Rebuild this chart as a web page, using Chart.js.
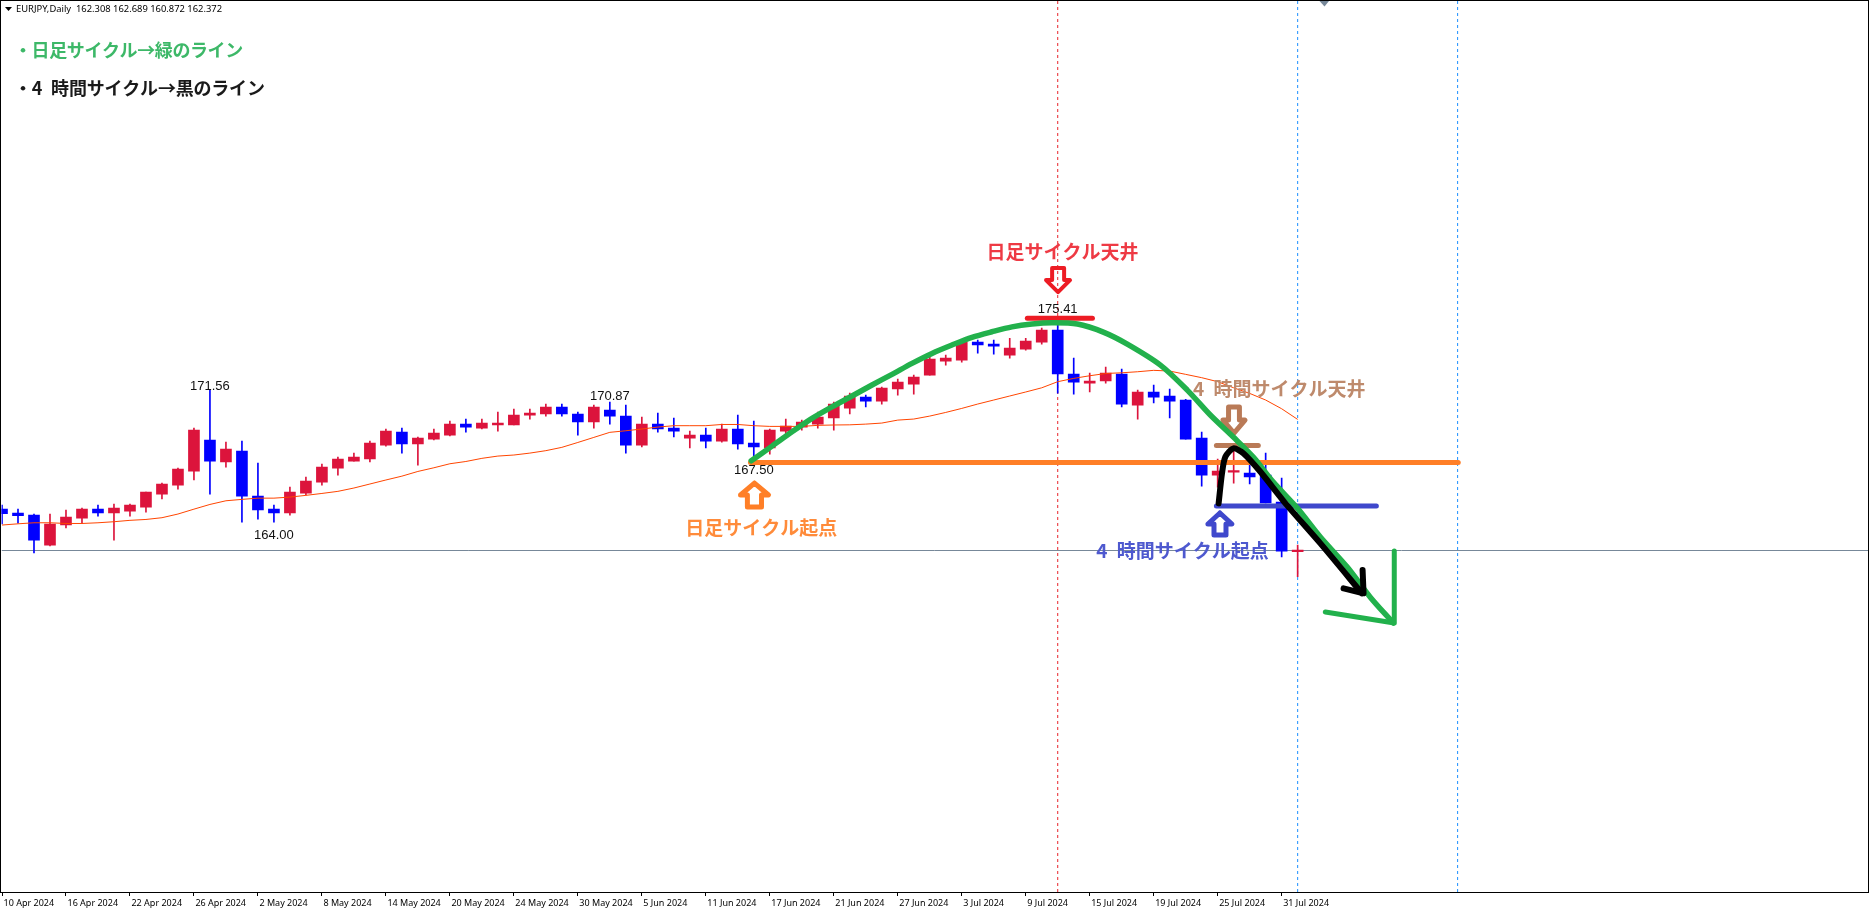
<!DOCTYPE html>
<html>
<head>
<meta charset="utf-8">
<title>EURJPY Daily</title>
<script src="https://cdn.jsdelivr.net/npm/chart.js@4/dist/chart.umd.js"></script>
<style>
    html, body { margin: 0; padding: 0; background: #fff; overflow: hidden; }
    canvas { display: block; }
</style>
</head>
<body>
<canvas id="chart" width="1869" height="908"></canvas>
<script>
// Candle values, one entry per trading day
const opens = [
    164.74, 164.52, 164.40, 162.68, 163.83, 164.23, 164.74, 164.52, 164.63, 164.86,
    165.60, 166.12, 166.92, 168.70, 167.44, 168.07, 165.49, 164.74, 164.52, 165.66,
    166.29, 167.09, 167.49, 167.61, 168.41, 169.15, 168.47, 168.75, 168.98, 169.61,
    169.38, 169.56, 169.56, 170.13, 170.19, 170.59, 170.19, 169.73, 170.41, 170.07,
    168.41, 169.61, 169.38, 168.81, 168.98, 168.64, 169.33, 168.52, 168.24, 169.21,
    169.44, 169.61, 169.96, 170.53, 171.16, 170.93, 171.62, 171.90, 172.42, 173.22,
    173.28, 174.31, 174.19, 173.56, 173.91, 174.31, 175.00, 172.48, 171.96, 172.08,
    172.48, 170.70, 171.45, 171.22, 170.99, 168.81, 166.69, 166.86, 166.81, 166.69,
    165.15, 162.308
];
const highs = [
    164.97, 164.74, 164.46, 164.46, 164.69, 164.80, 164.97, 165.03, 165.03, 165.72,
    166.23, 167.09, 169.38, 171.56, 168.58, 168.64, 167.38, 164.97, 166.00, 166.58,
    167.32, 167.72, 167.95, 168.64, 169.33, 169.38, 168.87, 169.33, 169.78, 169.90,
    169.90, 170.30, 170.47, 170.47, 170.76, 170.76, 170.30, 170.70, 170.87, 170.70,
    170.01, 170.24, 169.96, 169.21, 169.38, 169.61, 170.13, 169.78, 169.33, 169.90,
    169.84, 170.30, 170.87, 171.39, 171.27, 171.73, 172.19, 172.42, 173.62, 173.56,
    174.42, 174.42, 174.42, 174.53, 174.53, 175.11, 175.41, 173.39, 172.54, 172.88,
    172.76, 171.56, 171.85, 171.62, 171.03, 169.15, 167.61, 168.12, 167.55, 167.95,
    166.52, 162.689
];
const lows = [
    163.89, 163.94, 162.24, 162.63, 163.66, 163.94, 164.34, 162.97, 164.34, 164.57,
    165.32, 165.89, 166.41, 165.60, 167.15, 164.00, 164.17, 164.00, 164.40, 165.55,
    166.12, 166.69, 167.49, 167.44, 168.35, 167.95, 167.26, 168.70, 168.93, 169.15,
    169.33, 169.21, 169.56, 169.90, 170.07, 170.07, 168.98, 169.38, 169.61, 167.95,
    168.30, 169.15, 168.87, 168.24, 168.24, 168.58, 168.18, 167.50, 167.89, 168.87,
    169.27, 169.38, 169.27, 170.19, 170.59, 170.76, 171.27, 171.33, 172.42, 172.99,
    173.16, 173.68, 173.62, 173.39, 173.85, 174.19, 171.39, 171.33, 171.45, 171.96,
    170.59, 169.90, 170.82, 169.96, 168.75, 166.06, 166.00, 166.23, 166.18, 165.09,
    162.00, 160.872
];
const closes = [
    164.48, 164.36, 162.97, 163.89, 164.29, 164.74, 164.52, 164.80, 164.97, 165.72,
    166.18, 167.04, 169.27, 167.49, 168.18, 165.49, 164.69, 164.52, 165.72, 166.35,
    167.15, 167.61, 167.72, 168.52, 169.21, 168.47, 168.81, 169.10, 169.61, 169.44,
    169.67, 169.67, 170.13, 170.24, 170.59, 170.19, 169.73, 170.59, 170.07, 168.41,
    169.61, 169.33, 169.21, 168.98, 168.64, 169.33, 168.47, 168.30, 169.27, 169.50,
    169.73, 170.01, 170.76, 171.22, 170.93, 171.67, 172.02, 172.30, 173.34, 173.39,
    174.31, 174.14, 174.08, 173.96, 174.37, 175.00, 172.48, 172.02, 172.08, 172.54,
    170.76, 171.45, 171.16, 170.93, 168.75, 166.69, 166.92, 166.92, 166.58, 165.09,
    162.34, 162.372
];
const movingAverage = [
    163.83, 163.90, 163.96, 163.96, 163.92, 163.92, 163.96, 164.02, 164.10, 164.15,
    164.25, 164.46, 164.74, 165.01, 165.22, 165.30, 165.37, 165.37, 165.43, 165.53,
    165.64, 165.76, 165.95, 166.18, 166.41, 166.63, 166.90, 167.11, 167.34, 167.47,
    167.65, 167.78, 167.84, 167.95, 168.09, 168.28, 168.56, 168.85, 169.14, 169.23,
    169.33, 169.44, 169.52, 169.52, 169.52, 169.59, 169.59, 169.52, 169.48, 169.48,
    169.48, 169.54, 169.56, 169.57, 169.61, 169.67, 169.84, 169.90, 170.07, 170.28,
    170.51, 170.76, 170.99, 171.22, 171.45, 171.69, 172.04, 172.23, 172.38, 172.51,
    172.55, 172.61, 172.69, 172.65, 172.46, 172.27, 172.04, 171.69, 171.37, 170.99,
    170.49, 169.88
];

// One date label every 4 candles
const dateLabels = [
    '10 Apr 2024', '16 Apr 2024', '22 Apr 2024', '26 Apr 2024', '2 May 2024', '8 May 2024', '14 May 2024',
    '20 May 2024', '24 May 2024', '30 May 2024', '5 Jun 2024', '11 Jun 2024', '17 Jun 2024', '21 Jun 2024',
    '27 Jun 2024', '3 Jul 2024', '9 Jul 2024', '15 Jul 2024', '19 Jul 2024', '25 Jul 2024', '31 Jul 2024'
];
const labelStep = 4;

const currentPrice = 162.372;
const dayCycleTopIndex = 66;
const dashedBlueIndexes = [81, 91];

// Hand drawn lines, as [candle index, price]
const greenCycle = [
    [46.84, 167.51], [48.14, 168.35], [49.39, 169.17], [50.64, 169.94], [51.89, 170.60], [53.14, 171.22],
    [54.39, 171.85], [55.64, 172.46], [56.89, 173.09], [58.14, 173.66], [59.39, 174.14], [60.64, 174.58],
    [61.89, 174.90], [63.14, 175.18], [64.39, 175.34], [65.64, 175.41], [67.23, 175.34], [68.85, 174.88],
    [70.35, 174.19], [72.42, 172.99], [74.10, 171.56], [75.54, 170.13], [76.98, 168.87], [78.23, 167.72],
    [79.48, 166.29], [80.98, 164.80], [82.42, 163.14], [84.10, 161.42], [85.54, 159.70], [86.98, 158.22]
];
const greenHead = [[87.04, 162.34], [87.04, 158.22], [82.73, 158.85]];
const blackCycle = [
    [76.06, 165.07], [76.27, 166.79], [76.48, 167.74], [76.99, 168.22], [77.62, 167.93], [78.67, 166.88],
    [80.33, 164.97], [82.42, 162.78], [85.02, 159.92]
];
const blackHead = [[85.06, 161.25], [85.12, 159.92], [83.87, 160.20]];
const orangeLevel = [[46.79, 167.41], [91.04, 167.41]];
const redLevel = [[64.10, 175.67], [68.17, 175.67]];
const tanLevel = [[75.92, 168.39], [78.54, 168.39]];
const blueLevel = [[75.92, 164.92], [85.92, 164.92]];

// Block arrows, closed outlines
const orangeArrow = [
    [47.04, 166.23], [47.92, 165.55], [47.48, 165.55], [47.48, 164.86],
    [46.60, 164.86], [46.60, 165.55], [46.17, 165.55], [47.04, 166.23]
];
const redArrow = [
    [66.02, 177.17], [66.77, 177.86], [66.40, 177.86], [66.40, 178.55],
    [65.65, 178.55], [65.65, 177.86], [65.27, 177.86], [66.02, 177.17]
];
const tanArrow = [
    [77.02, 169.10], [77.71, 169.84], [77.36, 169.84], [77.36, 170.59],
    [76.68, 170.59], [76.68, 169.84], [76.33, 169.84], [77.02, 169.10]
];
const blueArrow = [
    [76.14, 164.52], [76.89, 163.89], [76.52, 163.89], [76.52, 163.26],
    [75.77, 163.26], [75.77, 163.89], [75.39, 163.89], [76.14, 164.52]
];

// Text tied to the chart: [text, candle index, price, colour]
const priceNotes = [
    ['171.56', 13, 171.79], ['164.00', 17, 163.26], ['170.87', 38, 171.18],
    ['167.50', 47, 166.98], ['175.41', 66, 176.20]
];
const cycleNotes = [
    ['日足サイクル天井', 66.3, 179.46, '#EE3A44'],
    ['4 時間サイクル天井', 79.85, 171.62, '#BE8A6C'],
    ['日足サイクル起点', 47.47, 163.68, '#FF8B3A'],
    ['4 時間サイクル起点', 73.8, 162.34, '#4E59CF']
];

const UP = '#DC143C';
const DOWN = '#0000FF';
const PX_PER_CANDLE = 16;
const PX_PER_PRICE = 17.46;

const toPoints = (list) => list.map(([x, y]) => ({ x, y }));

function drawnLine(data, color, width, order, tension = 0) {
    return {
        type: 'line',
        data: toPoints(data),
        borderColor: color,
        borderWidth: width,
        pointRadius: 0,
        tension,
        borderCapStyle: 'round',
        borderJoinStyle: 'round',
        order
    };
}

function guideLine(data, color, dash, order) {
    return {
        type: 'line',
        data: toPoints(data),
        borderColor: color,
        borderWidth: 1,
        borderDash: dash,
        pointRadius: 0,
        order
    };
}

const candleColors = closes.map((c, i) => (c >= opens[i] ? UP : DOWN));

// Frame, header and all text labels
const overlayPlugin = {
    id: 'overlay',
    afterDatasetsDraw(chart) {
        const { ctx, scales: { x, y } } = chart;
        ctx.save();
        ctx.textBaseline = 'middle';

        ctx.font = '13px "Liberation Sans"';
        ctx.fillStyle = '#111';
        ctx.textAlign = 'center';
        priceNotes.forEach(([text, i, p]) => {
            ctx.fillText(text, x.getPixelForValue(i), y.getPixelForValue(p));
        });

        ctx.font = 'bold 19px "Noto Sans CJK JP"';
        ctx.wordSpacing = '5px';
        cycleNotes.forEach(([text, i, p, color]) => {
            ctx.fillStyle = color;
            ctx.fillText(text, x.getPixelForValue(i), y.getPixelForValue(p));
        });

        ctx.textAlign = 'left';
        ctx.font = 'bold 18px "Noto Sans CJK JP"';
        ctx.letterSpacing = '-0.4px';
        ctx.fillStyle = '#3DB868';
        ctx.fillText('・日足サイクル→緑のライン', 14, 50);
        ctx.letterSpacing = '-0.2px';
        ctx.fillStyle = '#1A1A1A';
        ctx.fillText('・4 時間サイクル→黒のライン', 14, 88);
        ctx.letterSpacing = '0px';
        ctx.wordSpacing = '0px';

        ctx.font = '9.4px "Noto Sans"';
        ctx.fillStyle = '#000';
        ctx.fillText('EURJPY,Daily  162.308 162.689 160.872 162.372', 16, 9);

        // Little header triangle and the chart shift marker
        ctx.beginPath();
        ctx.moveTo(5, 7);
        ctx.lineTo(12, 7);
        ctx.lineTo(8.5, 11);
        ctx.closePath();
        ctx.fill();

        ctx.fillStyle = '#778899';
        ctx.beginPath();
        ctx.moveTo(1319.5, 1);
        ctx.lineTo(1329, 1);
        ctx.lineTo(1324.5, 6.5);
        ctx.closePath();
        ctx.fill();

        ctx.strokeStyle = '#000';
        ctx.lineWidth = 1;
        ctx.strokeRect(0.5, 0.5, 1868, 892);
        ctx.restore();
    }
};

const yMax = currentPrice + 549.5 / PX_PER_PRICE;
const yMin = currentPrice - 341.5 / PX_PER_PRICE;
const xMin = -0.5 / PX_PER_CANDLE;
const xMax = 1866.5 / PX_PER_CANDLE;

new Chart(document.getElementById('chart'), {
    type: 'bar',
    data: {
        datasets: [
            drawnLine(blackHead, '#000000', 6, 1),
            drawnLine(blackCycle, '#000000', 6, 2, 0.25),
            drawnLine(greenHead, '#22B14C', 5, 3),
            drawnLine(greenCycle, '#22B14C', 5.5, 4, 0.3),
            drawnLine(redArrow, '#ED1C24', 4, 5),
            drawnLine(tanArrow, '#B97A57', 5, 5),
            drawnLine(orangeArrow, '#FF7F27', 5, 5),
            drawnLine(blueArrow, '#3F48CC', 5, 5),
            drawnLine(redLevel, '#ED1C24', 5, 6),
            drawnLine(tanLevel, '#B97A57', 5, 6),
            drawnLine(blueLevel, '#3F48CC', 5, 6),
            drawnLine(orangeLevel, '#FF7F27', 5, 6),
            {
                type: 'line',
                data: movingAverage.map((v, i) => ({ x: i, y: v })),
                borderColor: '#FF4500',
                borderWidth: 1,
                pointRadius: 0,
                order: 7
            },
            {
                type: 'bar',
                data: opens.map((o, i) => ({ x: i, y: [o, closes[i]] })),
                backgroundColor: candleColors,
                barThickness: 11,
                minBarLength: 1.5,
                grouped: false,
                order: 8
            },
            {
                type: 'bar',
                data: lows.map((l, i) => ({ x: i, y: [l, highs[i]] })),
                backgroundColor: candleColors,
                barThickness: 1,
                grouped: false,
                order: 9
            },
            guideLine([[xMin, currentPrice], [xMax, currentPrice]], '#778899', [], 10),
            guideLine([[dayCycleTopIndex, yMin], [dayCycleTopIndex, yMax]], '#E8242C', [3, 3], 10),
            ...dashedBlueIndexes.map((i) => guideLine([[i, yMin], [i, yMax]], '#1E90FF', [3, 3], 10))
        ]
    },
    options: {
        responsive: false,
        animation: false,
        layout: { padding: { left: 1, right: 1, top: 1, bottom: 0 } },
        plugins: {
            legend: { display: false },
            tooltip: { enabled: false }
        },
        scales: {
            x: {
                type: 'linear',
                min: xMin,
                max: xMax,
                offset: false,
                afterBuildTicks(scale) {
                    scale.ticks = dateLabels.map((_, n) => ({ value: n * labelStep }));
                },
                afterFit(scale) {
                    scale.height = 16;
                },
                grid: {
                    offset: false,
                    drawOnChartArea: false,
                    drawTicks: true,
                    tickLength: 4,
                    tickColor: '#000000'
                },
                border: { color: '#000000', width: 1 },
                ticks: {
                    autoSkip: false,
                    maxRotation: 0,
                    align: 'start',
                    padding: 2,
                    labelOffset: 1.5,
                    color: '#000000',
                    font: { family: 'Noto Sans', size: 9 },
                    callback: (value) => dateLabels[Math.round(value / labelStep)] || ''
                }
            },
            y: {
                display: false,
                min: yMin,
                max: yMax
            }
        }
    },
    plugins: [overlayPlugin]
});
</script>
</body>
</html>
